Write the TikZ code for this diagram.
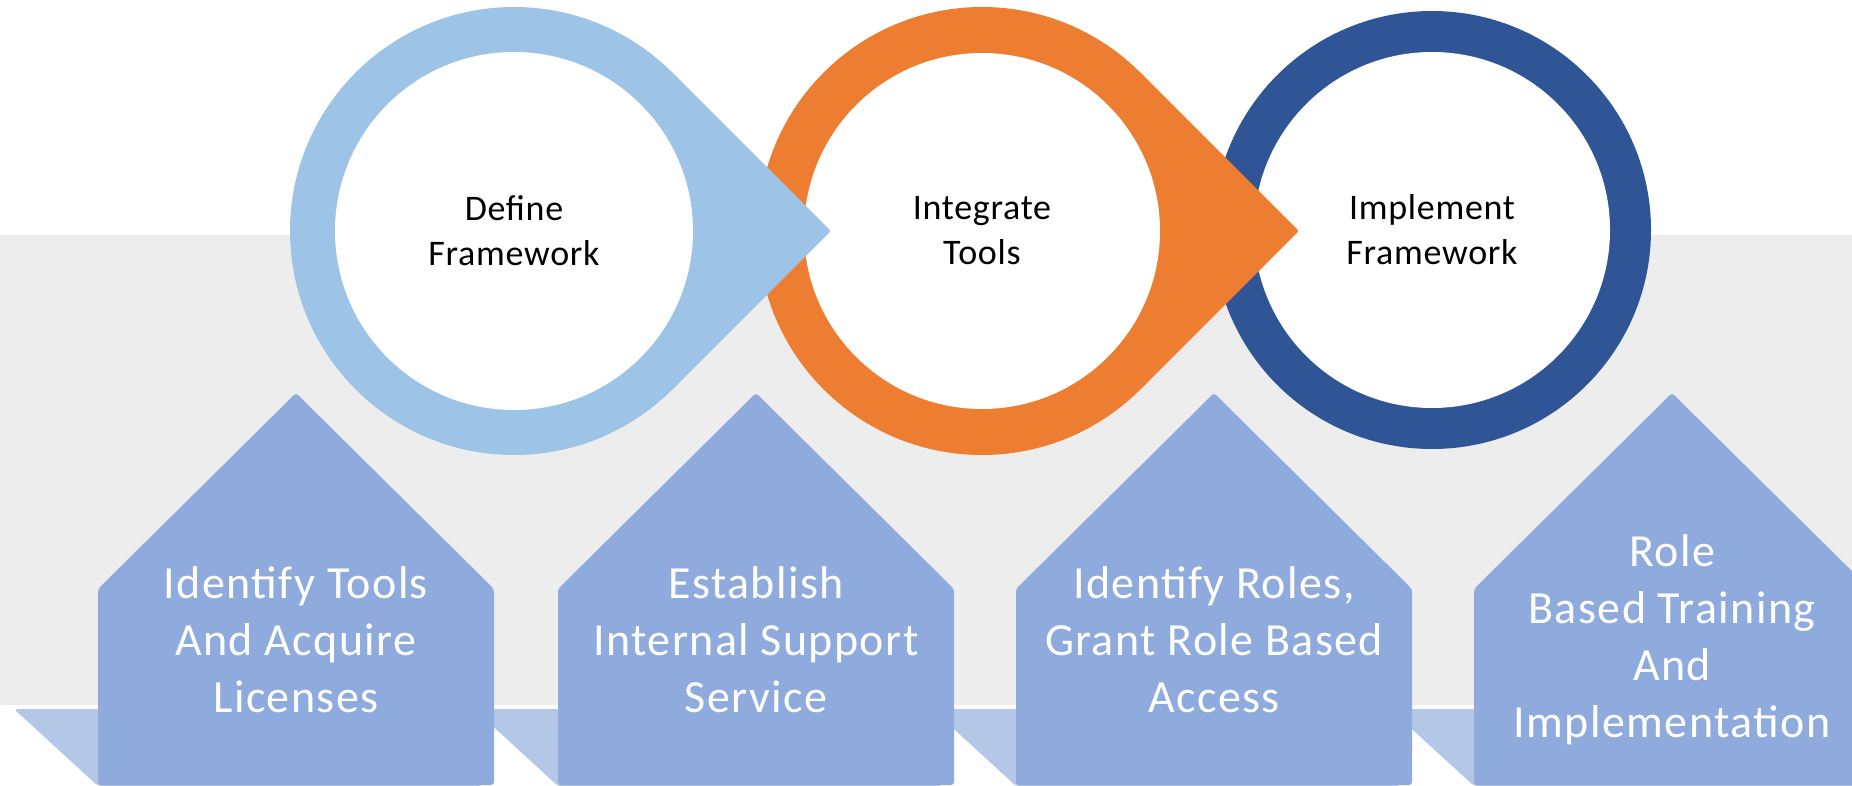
\documentclass[tikz,border=0pt]{standalone}
\usepackage{fontspec}
\setmainfont{Carlito}
\newfontfamily\housefont[LetterSpace=3]{Carlito}
\newfontfamily\circfont[LetterSpace=2]{Carlito}
\definecolor{bandgray}{HTML}{EDEDED}
\definecolor{stripblue}{HTML}{B4C7E7}
\definecolor{houseblue}{HTML}{8FAADC}
\definecolor{ringlight}{HTML}{9DC3E6}
\definecolor{ringorange}{HTML}{ED7D31}
\definecolor{ringdark}{HTML}{2F5597}
\tikzset{
  bandbox/.style={fill=bandgray},
  stripseg/.style={fill=stripblue, rounded corners=3pt},
  housebox/.style={fill=houseblue, rounded corners=3pt},
  housetext/.style={text=white, align=center, font=\housefont\fontsize{46}{57}\selectfont},
  circtext/.style={text=black, align=center, font=\circfont\fontsize{36}{45}\selectfont},
}
\begin{document}
\begin{tikzpicture}[x=1pt,y=-1pt]
\useasboundingbox (0,0) rectangle (1852,786);
\clip (0,0) rectangle (1852,786);
% background band
\fill[bandbox] (0,235) rectangle (1852,705);
% bottom strip segments
\foreach \L in {98,558,1016,1474}{
  \fill[stripseg] (\L-84,709) -- (\L+300,709) -- (\L+384,786) -- (\L,786) -- cycle;
}
% houses
\foreach \L/\n in {98/h1,558/h2,1016/h3,1474/h4}{
  \fill[housebox] (\L,785) -- (\L,589) -- (\L+198,393) -- (\L+396,589) -- (\L+396,785) -- cycle;
  \coordinate (\n) at (\L+198,640);
}
\node[housetext] (ht1) at (h1) {Identify Tools\\And Acquire\\Licenses};
\node[housetext] (ht2) at (h2) {Establish\\Internal Support\\Service};
\node[housetext] (ht3) at (h3) {Identify Roles,\\Grant Role Based\\Access};
\node[housetext] (ht4) at (h4) {Role\\Based Training\\And\\Implementation};
% circles
\coordinate (c1) at (514,231);
\coordinate (c2) at (982,231);
\coordinate (c3) at (1432,230);
\fill[ringdark] (c3) circle (219pt);
\fill[white] (c3) circle (178pt);
\fill[ringorange] (c2) circle (224pt);
\fill[ringorange, rounded corners=2pt] (c2) -- ++(45:224pt) -- ++(-45:224pt) -- ++(-135:224pt) -- cycle;
\fill[white] (c2) circle (178pt);
\fill[ringlight] (c1) circle (224pt);
\fill[ringlight, rounded corners=2pt] (c1) -- ++(45:224pt) -- ++(-45:224pt) -- ++(-135:224pt) -- cycle;
\fill[white] (c1) circle (179pt);
\node[circtext] (ct1) at (c1) {Define\\Framework};
\node[circtext] (ct2) at (c2) {Integrate\\Tools};
\node[circtext] (ct3) at (c3) {Implement\\Framework};
\end{tikzpicture}
\end{document}
